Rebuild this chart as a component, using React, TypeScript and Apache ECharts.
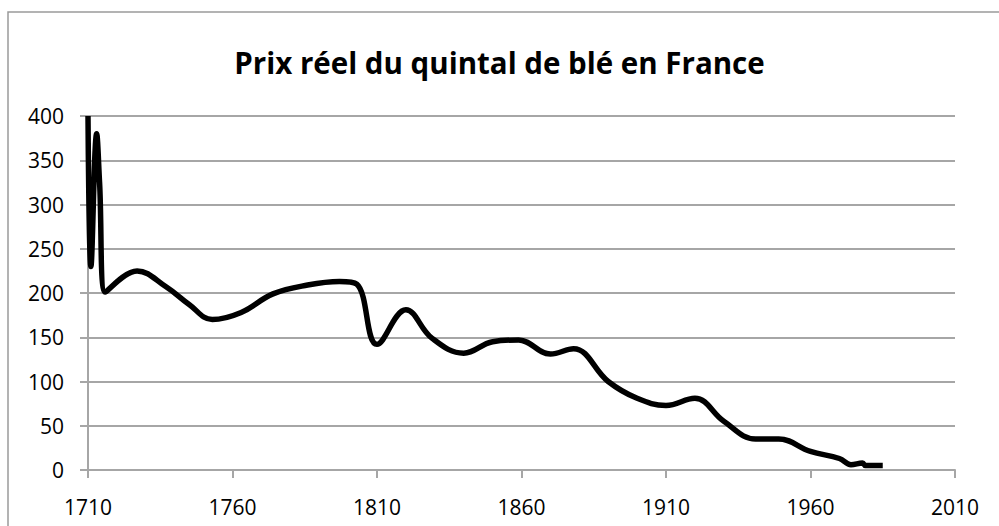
import React, { useEffect, useRef } from "react";
import * as echarts from "echarts";

const TITLE = "Prix réel du quintal de blé en France";
const X_START = 1710;
const X_END = 2010;
const X_STEP = 50;
const Y_MAX = 400;
const Y_STEP = 50;

const years = [
  1710, 1711, 1713, 1714, 1716, 1727, 1737, 1745, 1753, 1763, 1774, 1786, 1797,
  1803, 1810, 1820, 1829, 1840, 1850, 1859, 1870, 1878, 1890, 1900, 1910, 1920,
  1930, 1941, 1949, 1960, 1970, 1974, 1978, 1979, 1985,
];
const prices = [
  400, 230, 380, 325, 201, 225, 207, 187, 170, 178, 199, 209, 213, 210, 142,
  181, 149, 132, 145, 147, 131, 137, 100, 81, 73, 81, 55, 35, 35, 21, 13, 6, 8,
  5, 5,
];

export default function App() {
  const ref = useRef<HTMLDivElement>(null);
  useEffect(() => {
    if (!ref.current) return;
    const chart = echarts.init(ref.current, null, { renderer: "svg" });
    const gridColor = "#a6a6a6";
    const font = "'Open Sans', sans-serif";
    chart.setOption({
      animation: false,
      backgroundColor: "#ffffff",
      title: {
        text: TITLE,
        left: "center",
        top: 42,
        textStyle: {
          fontFamily: "'Open Sans', sans-serif",
          fontWeight: "bold",
          fontSize: 29.5,
          color: "#000",
        },
      },
      graphic: [
        {
          type: "rect",
          shape: { x: 8, y: 12, width: 1100, height: 700 },
          style: { fill: "none", stroke: "#9a9a9a", lineWidth: 1.5 },
          silent: true,
        },
      ],
      grid: { left: 88, right: 44, top: 116, bottom: 56 },
      xAxis: {
        type: "value",
        min: 0,
        max: X_END - X_START,
        interval: X_STEP,
        axisLine: { show: true, lineStyle: { color: gridColor, width: 2 } },
        axisTick: { show: true, length: 8, lineStyle: { color: gridColor, width: 2 } },
        splitLine: { show: false },
        axisLabel: {
          margin: 26,
          fontFamily: font,
          fontSize: 21,
          color: "#000",
          formatter: (v: number) => String(v + X_START),
        },
      },
      yAxis: {
        type: "value",
        min: 0,
        max: Y_MAX,
        interval: Y_STEP,
        axisLine: { show: true, lineStyle: { color: gridColor, width: 2 } },
        axisTick: { show: true, length: 8, lineStyle: { color: gridColor, width: 2 } },
        splitLine: { show: true, lineStyle: { color: gridColor, width: 2 } },
        axisLabel: {
          margin: 24,
          fontFamily: font,
          fontSize: 21,
          color: "#000",
        },
      },
      series: [
        {
          type: "line",
          data: years.map((y, i) => [y - X_START, prices[i]]),
          smooth: 0.4,
          showSymbol: false,
          lineStyle: { color: "#000", width: 5.5 },
        },
      ],
    });
    return () => chart.dispose();
  }, []);
  return (
    <div
      ref={ref}
      style={{ position: "fixed", left: 0, top: 0, width: 999, height: 526 }}
    />
  );
}
